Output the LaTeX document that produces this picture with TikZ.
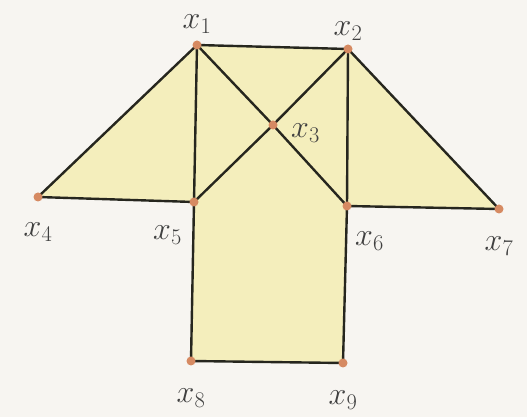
\RequirePackage{fix-cm}
\documentclass[tikz,border=0pt]{standalone}
\usepackage{tikz}
\usetikzlibrary{positioning}
\definecolor{paper}{RGB}{247,245,241}
\definecolor{facefill}{RGB}{244,238,188}
\definecolor{dotcol}{RGB}{214,138,98}
\definecolor{inkcol}{RGB}{38,38,30}
\newcommand{\vertexsize}{4.5pt}
\tikzset{
  graph edge/.style={line width=2.4pt,draw=inkcol},
  vertex label/.style={font=\fontsize{32}{34}\selectfont,text=black!75,inner sep=0pt},
  face/.style={fill=facefill}
}
\newcommand{\VertexDot}[1]{\fill[dotcol] (#1) circle (\vertexsize);}

\begin{document}
\begin{tikzpicture}[x=1pt,y=1pt,line cap=round,line join=round]
  \fill[paper] (0,0) rectangle (527,417);
  \useasboundingbox (0,0) rectangle (527,417);
  \coordinate (x1) at (197,372);
  \coordinate (x2) at (348,368);
  \coordinate (x3) at (273,292);
  \coordinate (x4) at ( 38,220);
  \coordinate (x5) at (194,215);
  \coordinate (x6) at (347,211);
  \coordinate (x7) at (499,208);
  \coordinate (x8) at (191, 56);
  \coordinate (x9) at (343, 54);

  \fill[face] (x4)--(x1)--(x2)--(x7)--(x6)--(x9)--(x8)--(x5)--cycle;

  \draw[graph edge] (x1)--(x2)
        (x1)--(x4) (x4)--(x5) (x1)--(x5)
        (x1)--(x3) (x3)--(x6) (x2)--(x3) (x3)--(x5)
        (x2)--(x6) (x2)--(x7) (x6)--(x7)
        (x5)--(x8) (x8)--(x9) (x9)--(x6);

  \foreach \p in {x1,x2,x3,x4,x5,x6,x7,x8,x9} {\VertexDot{\p}}
  \node[vertex label,above=11pt of x1] (l1) {$x_1$};
  \node[vertex label,above=8pt of x2] (l2) {$x_2$};
  \node[vertex label,right=18pt of x3,yshift=-8pt] (l3) {$x_3$};
  \node[vertex label,below=26pt of x4] (l4) {$x_4$};
  \node[vertex label,below left=24pt and 12pt of x5] (l5) {$x_5$};
  \node[vertex label,below right=26pt and 8pt of x6] (l6) {$x_6$};
  \node[vertex label,below=28pt of x7] (l7) {$x_7$};
  \node[vertex label,below=28pt of x8] (l8) {$x_8$};
  \node[vertex label,below=28pt of x9] (l9) {$x_9$};
\end{tikzpicture}
\end{document}
